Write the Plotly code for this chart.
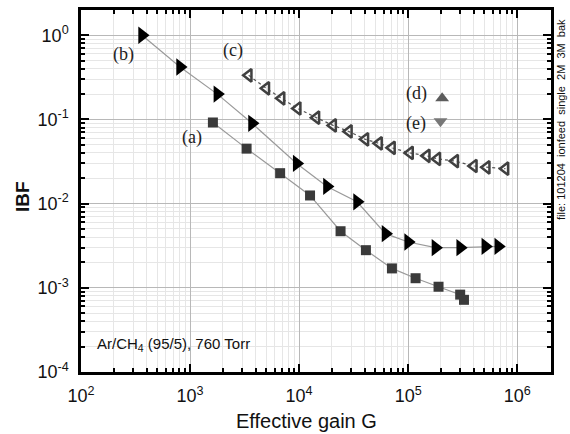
import plotly.graph_objects as go

# ---- data ----
gain_a = [1620, 3300, 6700, 12600, 24000, 41000, 71000, 117000, 190000, 300000, 325000]
ibf_a = [0.092, 0.045, 0.023, 0.0125, 0.0047, 0.0028, 0.0017, 0.0013, 0.00103, 0.00083, 0.00072]

gain_b = [363, 810, 1780, 3700, 9500, 18000, 34000, 62000, 100000, 178000, 300000, 510000, 670000]
ibf_b = [1.0, 0.42, 0.20, 0.09, 0.030, 0.016, 0.0105, 0.0044, 0.0035, 0.0030, 0.0030, 0.0031, 0.0031]

gain_c = [3450, 5000, 6900, 9700, 14400, 20500, 28600, 40500, 54000, 71000, 104000,
          148000, 185000, 270000, 400000, 525000, 780000]
ibf_c = [0.334, 0.234, 0.178, 0.135, 0.105, 0.085, 0.072, 0.058, 0.052, 0.046, 0.040,
         0.037, 0.034, 0.032, 0.028, 0.027, 0.026]

gain_d = [205000]
ibf_d = [0.178]
gain_e = [198000]
ibf_e = [0.095]

x_tickvals = [1e2, 1e3, 1e4, 1e5, 1e6]
x_ticktext = ["10<sup>2</sup>", "10<sup>3</sup>", "10<sup>4</sup>", "10<sup>5</sup>", "10<sup>6</sup>"]
y_tickvals = [1e-4, 1e-3, 1e-2, 1e-1, 1e0]
y_ticktext = ["10<sup>-4</sup>", "10<sup>-3</sup>", "10<sup>-2</sup>", "10<sup>-1</sup>", "10<sup>0</sup>"]

labels = ["(a)", "(b)", "(c)", "(d)", "(e)"]

fig = go.Figure()

fig.add_trace(go.Scatter(x=gain_a, y=ibf_a, mode="lines+markers",
                         line=dict(color="#9a9a9a", width=1.2),
                         marker=dict(symbol="square", size=10, color="#3a3a3a"),
                         showlegend=False))
fig.add_trace(go.Scatter(x=gain_b, y=ibf_b, mode="lines+markers",
                         line=dict(color="#9a9a9a", width=1.2),
                         marker=dict(symbol="triangle-right", size=15, color="#000000"),
                         showlegend=False))
fig.add_trace(go.Scatter(x=gain_c, y=ibf_c, mode="lines+markers",
                         line=dict(color="#555555", width=1.2, dash="dot"),
                         marker=dict(symbol="triangle-left-open", size=11, color="#404040",
                                     line=dict(width=2.5, color="#404040")),
                         showlegend=False))
fig.add_trace(go.Scatter(x=gain_d, y=ibf_d, mode="markers",
                         marker=dict(symbol="triangle-up", size=12, color="#5c5c5c"),
                         showlegend=False))
fig.add_trace(go.Scatter(x=gain_e, y=ibf_e, mode="markers",
                         marker=dict(symbol="triangle-down", size=12, color="#777777"),
                         showlegend=False))

W, H = 570, 434
# plot area in page pixels: left 81, right 551, top 10, bottom 372
L, T = 81, 10
R = W - 551
B = H - 372
pw, ph = W - L - R, H - T - B


def px(x, y):
    return (x - L) / pw, (H - B - y) / ph


def note(x, y, text, size, family, angle=0, xanchor="center", color="#111111"):
    ax_, ay_ = px(x, y)
    fig.add_annotation(x=ax_, y=ay_, xref="paper", yref="paper", text=text, showarrow=False,
                       xanchor=xanchor, yanchor="middle", textangle=angle,
                       font=dict(family=family, size=size, color=color))


SERIF = "Liberation Serif, Times New Roman, serif"
SANS = "Liberation Sans, Arial, sans-serif"

label_pos = {"(a)": (192, 137), "(b)": (123, 55), "(c)": (233, 51), "(d)": (416, 94), "(e)": (416, 123)}
for lab in labels:
    note(*label_pos[lab], lab, 18, SERIF, color="#222222")

note(95, 344, "Ar/CH<sub>4</sub> (95/5), 760 Torr", 15, SANS, xanchor="left")
note(561, 120, "file: 101204  ionfeed  single  2M  3M  bak", 11, SANS, angle=-90)
note(22, 197, "<b>IBF</b>", 19, SANS, angle=-90)
note(306, 421, "Effective gain G", 20, SANS)

axis_common = dict(
    type="log", automargin=False,
    showline=True, linecolor="black", linewidth=2.5, mirror="allticks",
    ticks="inside", ticklen=8, tickwidth=2, tickcolor="black",
    showgrid=True, gridcolor="#b8b8b8", gridwidth=1,
    zeroline=False,
    tickfont=dict(family=SANS, size=18, color="#111111"),
    minor=dict(dtick="D1", ticks="inside", ticklen=4, tickwidth=1.5, tickcolor="black",
               showgrid=True, gridcolor="#e6e6e6", gridwidth=1),
)

fig.update_xaxes(range=[2, 6.31], tickvals=x_tickvals, ticktext=x_ticktext,
                 ticklabelstandoff=6, **axis_common)
fig.update_yaxes(range=[-4, 0.3], tickvals=y_tickvals, ticktext=y_ticktext,
                 ticklabelstandoff=6, **axis_common)

fig.update_layout(
    width=W, height=H,
    margin=dict(l=L, r=R, t=T, b=B, autoexpand=False),
    paper_bgcolor="white", plot_bgcolor="white",
    font=dict(family=SANS),
)

fig.write_html("out.html",
               config={"displayModeBar": False},
               post_script="document.body.style.margin='0px';document.body.style.overflow='hidden';")
